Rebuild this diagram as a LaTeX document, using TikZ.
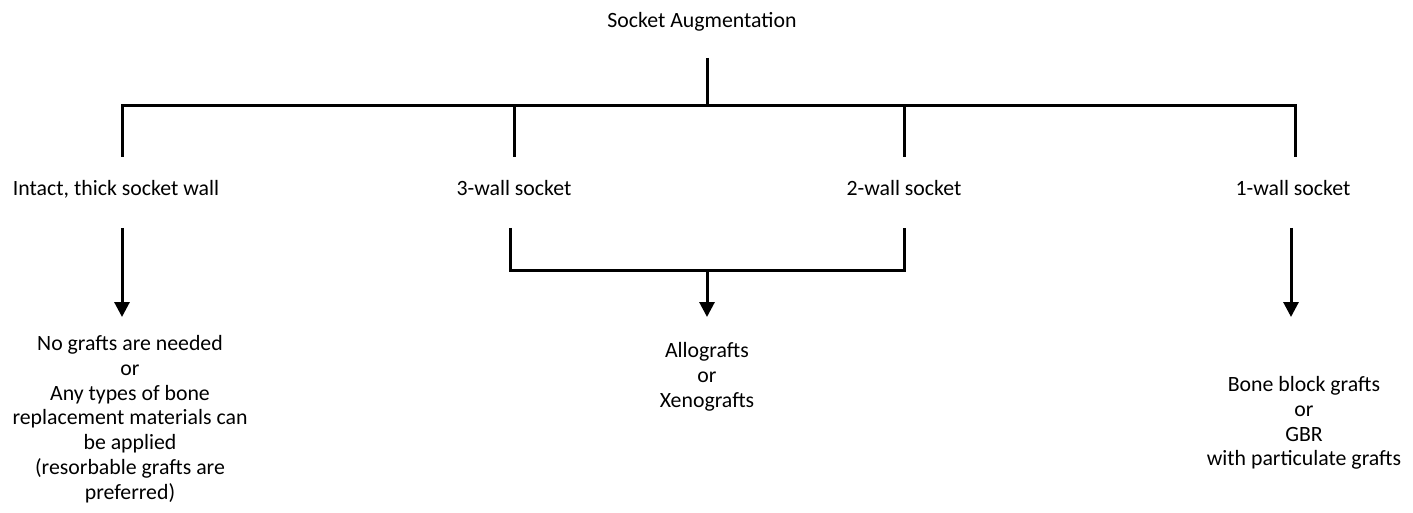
\documentclass[tikz,border=0pt]{standalone}
\usepackage{fontspec}
\setmainfont{Carlito}
\usepackage{tikz}
\usetikzlibrary{arrows.meta}
\tikzset{
	lbl/.style={align=center, inner sep=0pt, font=\fontsize{10.9}{12.4}\selectfont},
	wire/.style={line width=1.5pt},
	arr/.style={wire, -{Triangle[width=7.5pt,length=7.5pt]}}
}

\begin{document}
\begin{tikzpicture}[x=0.5pt, y=-0.5pt]
			\useasboundingbox (0,0) rectangle (1413,513);

			\node[lbl, anchor=base] (root) at (702,28) {Socket Augmentation};
			\node[lbl, anchor=base] (intact) at (116,196) {Intact, thick socket wall};
			\node[lbl, anchor=base] (three) at (514,196) {3-wall socket};
			\node[lbl, anchor=base] (two) at (904,196) {2-wall socket};
			\node[lbl, anchor=base] (one) at (1293,196) {1-wall socket};

			\node[lbl, anchor=north] (nograft) at (130,335) {No grafts are needed\\or\\Any types of bone\\replacement materials can\\be applied\\(resorbable grafts are\\preferred)};
			\node[lbl, anchor=north] (allo) at (707,342) {Allografts\\or\\Xenografts};
			\node[lbl, anchor=north] (block) at (1304,376) {Bone block grafts\\or\\GBR\\with particulate grafts};

			\coordinate (top) at (707,58);
			\coordinate (hub) at (707,106);
			\coordinate (a1) at (122,157);
			\coordinate (a2) at (514,157);
			\coordinate (a3) at (904,157);
			\coordinate (a4) at (1295,157);

			\draw[wire] (top) -- (hub);
			\draw[wire] (a1) |- (hub) -| (a4);
			\draw[wire] (a2) -- (a2 |- hub);
			\draw[wire] (a3) -- (a3 |- hub);

			\coordinate (b1) at (122,228);
			\coordinate (b2) at (510,228);
			\coordinate (b3) at (904,228);
			\coordinate (b4) at (1291,228);
			\coordinate (join) at (707,271);
			\coordinate (c1) at (122,317);
			\coordinate (c2) at (707,317);
			\coordinate (c4) at (1291,317);

			\draw[wire] (b2) |- (join) -| (b3);
			\draw[arr] (b1) -- (c1);
			\draw[arr] (join) -- (c2);
			\draw[arr] (b4) -- (c4);
		\end{tikzpicture}
\end{document}
